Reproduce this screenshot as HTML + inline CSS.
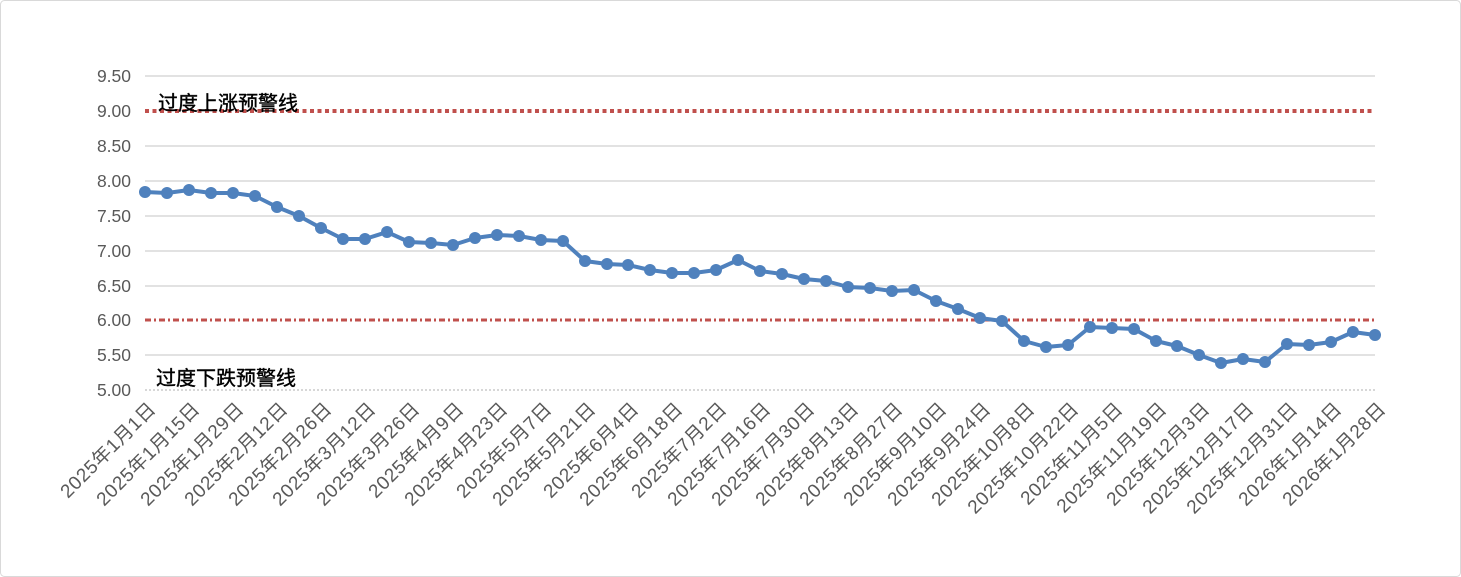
<!DOCTYPE html>
<html><head><meta charset="utf-8"><style>
body{margin:0;background:#fff}
svg{display:block}
text{font-family:"Liberation Sans","Noto Sans CJK SC",sans-serif}
</style></head><body>
<svg width="1461" height="577" xmlns="http://www.w3.org/2000/svg">
<rect x="0.5" y="0.5" width="1460" height="576" rx="4" fill="#fff" stroke="#d9d9d9"/>
<g id="grid" stroke="#d9d9d9" stroke-width="1.5">
<line x1="145" x2="1375" y1="76" y2="76"/>
<line x1="145" x2="1375" y1="146" y2="146"/>
<line x1="145" x2="1375" y1="181" y2="181"/>
<line x1="145" x2="1375" y1="216" y2="216"/>
<line x1="145" x2="1375" y1="251" y2="251"/>
<line x1="145" x2="1375" y1="286" y2="286"/>
<line x1="145" x2="1375" y1="355" y2="355"/>
</g>
<line x1="145" x2="1375" y1="390" y2="390" stroke="#bfbfbf" stroke-width="1.2" stroke-dasharray="2,2"/>
<line x1="145" x2="1375" y1="111" y2="111" stroke="#c0504d" stroke-width="4" stroke-dasharray="4,3.5"/>
<line x1="145" x2="1375" y1="320" y2="320" stroke="#c0504d" stroke-width="3" stroke-dasharray="6,3,2,3"/>
<g font-size="17.5" fill="#595959" text-anchor="end">
<text x="131" y="82">9.50</text><text x="131" y="117">9.00</text><text x="131" y="152">8.50</text>
<text x="131" y="187">8.00</text><text x="131" y="222">7.50</text><text x="131" y="257">7.00</text>
<text x="131" y="292">6.50</text><text x="131" y="326">6.00</text><text x="131" y="361">5.50</text>
<text x="131" y="396">5.00</text>
</g>
<text x="158" y="110" font-size="20" fill="#000" stroke="#000" stroke-width="0.4">过度上涨预警线</text>
<text x="156" y="385" font-size="20" fill="#000" stroke="#000" stroke-width="0.4">过度下跌预警线</text>
<polyline fill="none" stroke="#4f81bd" stroke-width="4" stroke-linejoin="round" points="145,192 167,193 189,190 211,193 233,193 255,196 277,207 299,216 321,228 343,239 365,239 387,232 409,242 431,243 453,245 475,238 497,235 519,236 541,240 563,241 585,261 607,264 628,265 650,270 672,273 694,273 716,270 738,260 760,271 782,274 804,279 826,281 848,287 870,288 892,291 914,290 936,301 958,309 980,318 1002,321 1024,341 1046,347 1068,345 1090,327 1112,328 1134,329 1156,341 1177,346 1199,355 1221,363 1243,359 1265,362 1287,344 1309,345 1331,342 1353,332 1375,335"/>
<g fill="#4f81bd">
<circle cx="145" cy="192" r="6"/><circle cx="167" cy="193" r="6"/><circle cx="189" cy="190" r="6"/><circle cx="211" cy="193" r="6"/><circle cx="233" cy="193" r="6"/><circle cx="255" cy="196" r="6"/><circle cx="277" cy="207" r="6"/><circle cx="299" cy="216" r="6"/><circle cx="321" cy="228" r="6"/><circle cx="343" cy="239" r="6"/><circle cx="365" cy="239" r="6"/><circle cx="387" cy="232" r="6"/><circle cx="409" cy="242" r="6"/><circle cx="431" cy="243" r="6"/><circle cx="453" cy="245" r="6"/><circle cx="475" cy="238" r="6"/><circle cx="497" cy="235" r="6"/><circle cx="519" cy="236" r="6"/><circle cx="541" cy="240" r="6"/><circle cx="563" cy="241" r="6"/><circle cx="585" cy="261" r="6"/><circle cx="607" cy="264" r="6"/><circle cx="628" cy="265" r="6"/><circle cx="650" cy="270" r="6"/><circle cx="672" cy="273" r="6"/><circle cx="694" cy="273" r="6"/><circle cx="716" cy="270" r="6"/><circle cx="738" cy="260" r="6"/><circle cx="760" cy="271" r="6"/><circle cx="782" cy="274" r="6"/><circle cx="804" cy="279" r="6"/><circle cx="826" cy="281" r="6"/><circle cx="848" cy="287" r="6"/><circle cx="870" cy="288" r="6"/><circle cx="892" cy="291" r="6"/><circle cx="914" cy="290" r="6"/><circle cx="936" cy="301" r="6"/><circle cx="958" cy="309" r="6"/><circle cx="980" cy="318" r="6"/><circle cx="1002" cy="321" r="6"/><circle cx="1024" cy="341" r="6"/><circle cx="1046" cy="347" r="6"/><circle cx="1068" cy="345" r="6"/><circle cx="1090" cy="327" r="6"/><circle cx="1112" cy="328" r="6"/><circle cx="1134" cy="329" r="6"/><circle cx="1156" cy="341" r="6"/><circle cx="1177" cy="346" r="6"/><circle cx="1199" cy="355" r="6"/><circle cx="1221" cy="363" r="6"/><circle cx="1243" cy="359" r="6"/><circle cx="1265" cy="362" r="6"/><circle cx="1287" cy="344" r="6"/><circle cx="1309" cy="345" r="6"/><circle cx="1331" cy="342" r="6"/><circle cx="1353" cy="332" r="6"/><circle cx="1375" cy="335" r="6"/>
</g>
<g font-size="19" fill="#595959" text-anchor="end" letter-spacing="0.6">
<text transform="translate(157,410) rotate(-45)">2025年1月1日</text>
<text transform="translate(201,410) rotate(-45)">2025年1月15日</text>
<text transform="translate(245,410) rotate(-45)">2025年1月29日</text>
<text transform="translate(289,410) rotate(-45)">2025年2月12日</text>
<text transform="translate(333,410) rotate(-45)">2025年2月26日</text>
<text transform="translate(377,410) rotate(-45)">2025年3月12日</text>
<text transform="translate(421,410) rotate(-45)">2025年3月26日</text>
<text transform="translate(465,410) rotate(-45)">2025年4月9日</text>
<text transform="translate(509,410) rotate(-45)">2025年4月23日</text>
<text transform="translate(553,410) rotate(-45)">2025年5月7日</text>
<text transform="translate(597,410) rotate(-45)">2025年5月21日</text>
<text transform="translate(640,410) rotate(-45)">2025年6月4日</text>
<text transform="translate(684,410) rotate(-45)">2025年6月18日</text>
<text transform="translate(728,410) rotate(-45)">2025年7月2日</text>
<text transform="translate(772,410) rotate(-45)">2025年7月16日</text>
<text transform="translate(816,410) rotate(-45)">2025年7月30日</text>
<text transform="translate(860,410) rotate(-45)">2025年8月13日</text>
<text transform="translate(904,410) rotate(-45)">2025年8月27日</text>
<text transform="translate(948,410) rotate(-45)">2025年9月10日</text>
<text transform="translate(992,410) rotate(-45)">2025年9月24日</text>
<text transform="translate(1036,410) rotate(-45)">2025年10月8日</text>
<text transform="translate(1080,410) rotate(-45)">2025年10月22日</text>
<text transform="translate(1124,410) rotate(-45)">2025年11月5日</text>
<text transform="translate(1168,410) rotate(-45)">2025年11月19日</text>
<text transform="translate(1211,410) rotate(-45)">2025年12月3日</text>
<text transform="translate(1255,410) rotate(-45)">2025年12月17日</text>
<text transform="translate(1299,410) rotate(-45)">2025年12月31日</text>
<text transform="translate(1343,410) rotate(-45)">2026年1月14日</text>
<text transform="translate(1387,410) rotate(-45)">2026年1月28日</text>
</g>
</svg>
</body></html>
